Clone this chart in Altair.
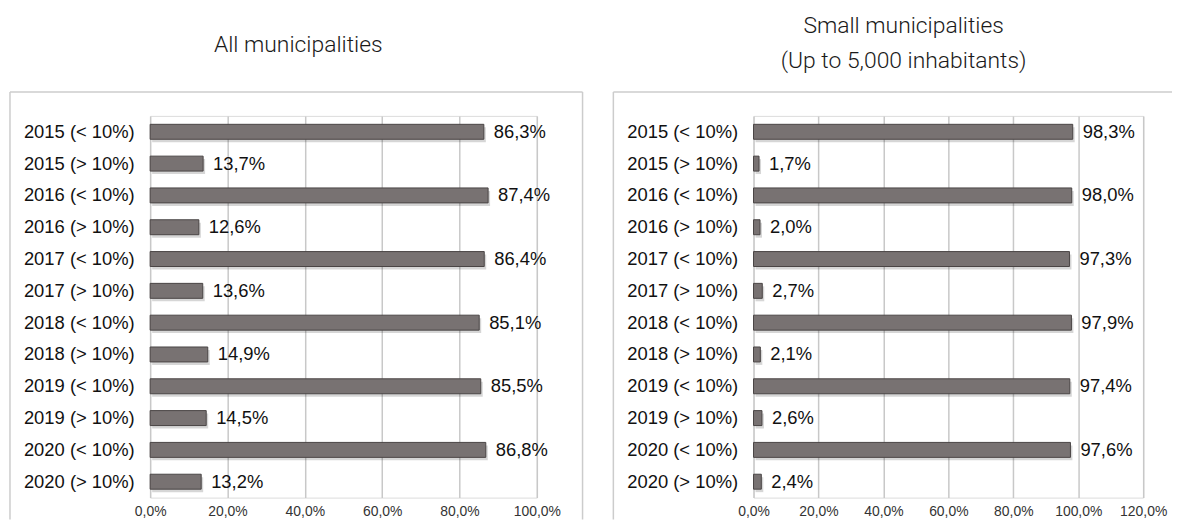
import altair as alt
import pandas as pd

categories = [
    "2015 (< 10%)", "2015 (> 10%)", "2016 (< 10%)", "2016 (> 10%)",
    "2017 (< 10%)", "2017 (> 10%)", "2018 (< 10%)", "2018 (> 10%)",
    "2019 (< 10%)", "2019 (> 10%)", "2020 (< 10%)", "2020 (> 10%)",
]
all_values = [86.3, 13.7, 87.4, 12.6, 86.4, 13.6, 85.1, 14.9, 85.5, 14.5, 86.8, 13.2]
small_values = [98.3, 1.7, 98.0, 2.0, 97.3, 2.7, 97.9, 2.1, 97.4, 2.6, 97.6, 2.4]

left_ticks = [0, 20, 40, 60, 80, 100]
right_ticks = [0, 20, 40, 60, 80, 100, 120]

title_left = ["All municipalities"]
title_right = ["Small municipalities", "(Up to 5,000 inhabitants)"]

TITLE_FONT = "Roboto"
BODY_FONT = "Liberation Sans, Arial"
H = 384
one = alt.Data(values=[{"a": 1}])


def rule(x1, x2, y1, y2, color="#cccccc", width=1.5):
    return alt.Chart(one).mark_rule(color=color, strokeWidth=width).encode(
        x=alt.value(x1), x2=alt.value(x2), y=alt.value(y1), y2=alt.value(y2)
    )


def title_text(txt, x, y):
    return alt.Chart(one).mark_text(
        text=txt, font=TITLE_FONT, fontSize=23, fontWeight=300, color="#1a1a1a",
        align="center", baseline="alphabetic"
    ).encode(x=alt.value(x), y=alt.value(y))


def panel(values, xmax, ticks, width, titles, box_right, right_side):
    df = pd.DataFrame({"cat": categories, "value": values})
    base = alt.Chart(df).transform_calculate(
        label="replace(format(datum.value, '.1f'), '.', ',') + '%'"
    )
    xenc = alt.X(
        "value:Q",
        scale=alt.Scale(domain=[0, xmax], nice=False, zero=True),
        axis=alt.Axis(
            values=ticks, title=None, grid=True, gridColor="#c8c8c8", gridWidth=1.5,
            domain=False, ticks=False, labelFontSize=14, labelColor="#333333",
            labelFont=BODY_FONT, labelPadding=7, labelOverlap=False, labelFlush=False,
            labelExpr="replace(format(datum.value, '.1f'), '.', ',') + '%'",
        ),
    )
    yenc = alt.Y(
        "cat:N", sort=categories,
        scale=alt.Scale(paddingInner=0.53, paddingOuter=0.265),
        axis=alt.Axis(
            title=None, domain=False, ticks=False, grid=False, labelFontSize=18.5,
            labelColor="#111111", labelFont=BODY_FONT, labelPadding=16,
        ),
    )
    shadow = base.mark_bar(color="#000000", opacity=0.16, xOffset=2, yOffset=3).encode(
        x=alt.X("value:Q"), y=alt.Y("cat:N", sort=categories)
    )
    bars = base.mark_bar(color="#787272", stroke="#4a4545", strokeWidth=1).encode(
        x=xenc, y=yenc
    )
    labels = base.mark_text(
        align="left", baseline="middle", dx=10, fontSize=18.5, font=BODY_FONT, color="#111111"
    ).encode(x=alt.X("value:Q"), y=alt.Y("cat:N", sort=categories), text="label:N")

    layers = [
        rule(0, 1, -106, -105.5, color="#ffffff", width=0.5),
        rule(-141, box_right, -24, -24),
        rule(-141, -141, -24, 406),
    ]
    if right_side:
        layers.append(rule(box_right, box_right, -24, 406))
    for t, x, y in titles:
        layers.append(title_text(t, x, y))
    layers += [shadow, bars, labels]
    return alt.layer(*layers).properties(width=width, height=H)


left = panel(all_values, 100, left_ticks, 389,
             [(title_left[0], 149, -64)], 435, True)
right = panel(small_values, 120, right_ticks, 392,
              [(title_right[0], 151, -83), (title_right[1], 151, -48)], 421, False)

chart = alt.hconcat(left, right, spacing=27).properties(
    padding={"left": 0, "top": 0, "right": 0, "bottom": 0}
).configure_view(stroke=None).configure(background="white")

chart.save("out.html", embed_options={"renderer": "svg", "actions": False})
